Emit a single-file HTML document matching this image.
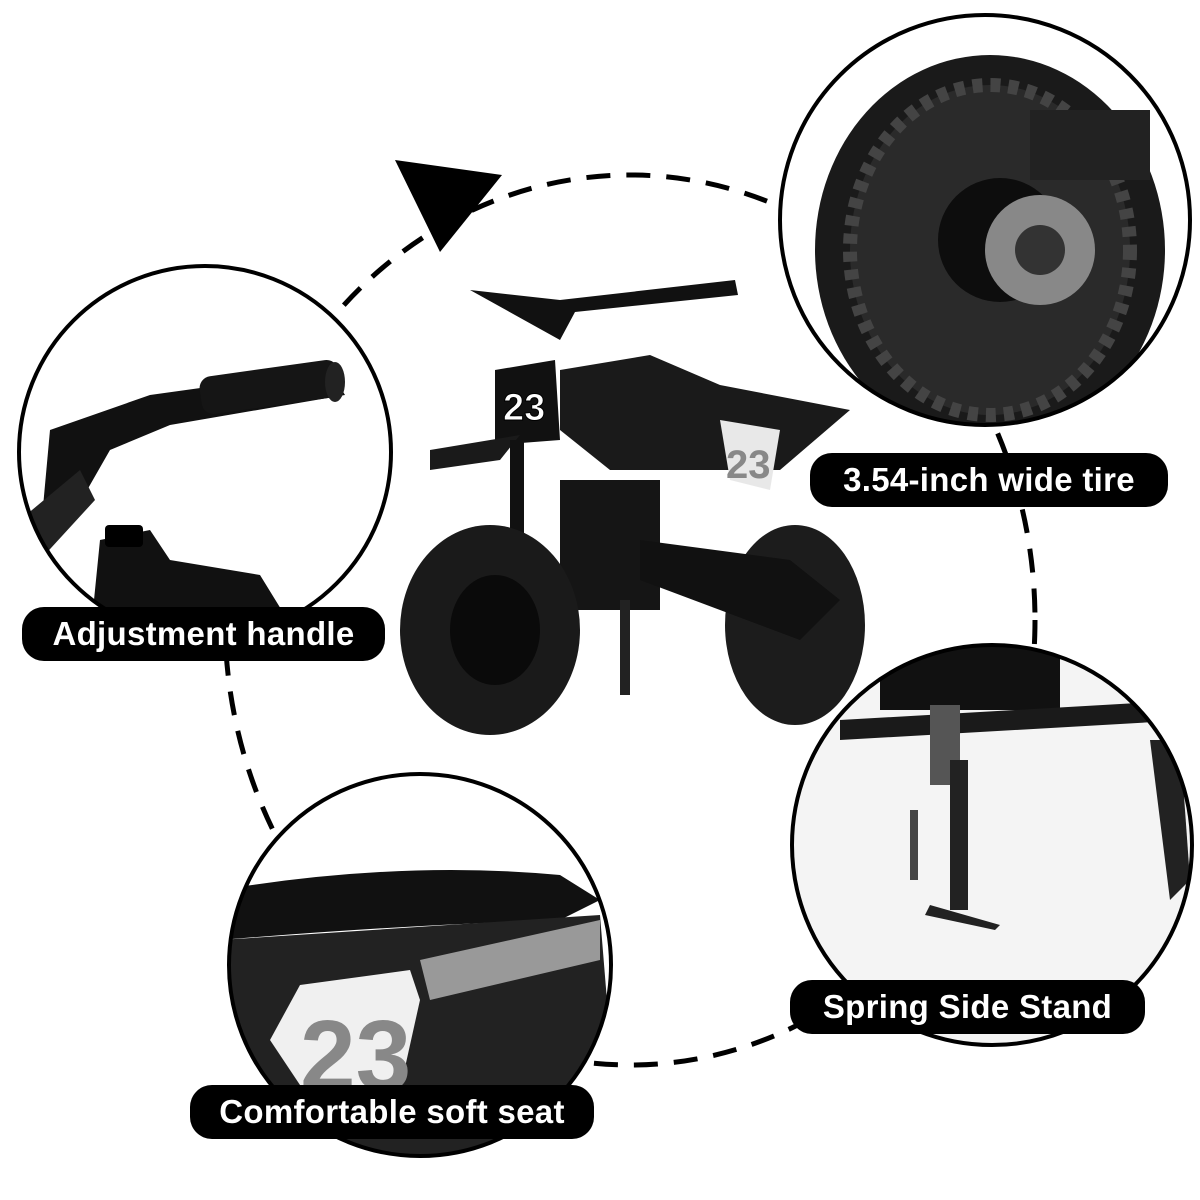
<!DOCTYPE html>
<html><head><meta charset="utf-8"><style>
html,body{margin:0;padding:0;background:#fff;width:1200px;height:1200px;overflow:hidden}
.lbl{position:absolute;background:#000;color:#fff;border-radius:22px;font-family:"Liberation Sans",sans-serif;font-weight:bold;font-size:33px;display:flex;align-items:center;justify-content:center;letter-spacing:0.3px}
</style></head><body>
<svg width="1200" height="1200" style="position:absolute;left:0;top:0">
<ellipse cx="630" cy="620" rx="405" ry="445" fill="none" stroke="#000" stroke-width="5" stroke-dasharray="24 16"/>
<polygon points="395,160 502,175 440,252" fill="#000"/>
<!-- handle circle -->
<clipPath id="c1"><circle cx="205" cy="452" r="186"/></clipPath>
<g clip-path="url(#c1)">
<rect x="0" y="260" width="400" height="400" fill="#fff"/>
<path d="M50 430 L150 395 L330 370 L345 395 L170 425 L110 450 L70 520 L40 540 Z" fill="#111"/>
<rect x="200" y="368" width="140" height="38" rx="12" fill="#151515" transform="rotate(-8 270 387)"/>
<ellipse cx="335" cy="382" rx="10" ry="20" fill="#222"/>
<path d="M20 520 L80 470 L95 500 L40 560 Z" fill="#222"/>
<path d="M100 540 L150 530 L170 560 L260 575 L300 640 L90 640 Z" fill="#111"/>
<rect x="105" y="525" width="38" height="22" rx="4" fill="#000"/>
</g>
<circle cx="205" cy="452" r="186" fill="none" stroke="#000" stroke-width="4"/>
<!-- tire circle -->
<clipPath id="c2"><circle cx="985" cy="220" r="205"/></clipPath>
<g clip-path="url(#c2)">
<rect x="780" y="10" width="420" height="420" fill="#fff"/>
<ellipse cx="990" cy="250" rx="175" ry="195" fill="#1a1a1a"/>
<ellipse cx="990" cy="250" rx="140" ry="165" fill="#2a2a2a" stroke="#444" stroke-width="14" stroke-dasharray="10 8"/>
<circle cx="1000" cy="240" r="62" fill="#0d0d0d"/>
<circle cx="1040" cy="250" r="55" fill="#888"/>
<circle cx="1040" cy="250" r="25" fill="#333"/>
<rect x="1030" y="110" width="120" height="70" fill="#222"/>
</g>
<circle cx="985" cy="220" r="205" fill="none" stroke="#000" stroke-width="4"/>
<!-- stand circle -->
<clipPath id="c3"><circle cx="992" cy="845" r="200"/></clipPath>
<g clip-path="url(#c3)">
<rect x="790" y="640" width="410" height="410" fill="#f4f4f4"/>
<rect x="880" y="640" width="180" height="70" fill="#111"/>
<path d="M840 720 L1190 700 L1190 720 L840 740 Z" fill="#1a1a1a"/>
<path d="M1150 740 L1180 740 L1190 880 L1170 900 Z" fill="#222"/>
<rect x="930" y="705" width="30" height="80" fill="#555"/>
<rect x="950" y="760" width="18" height="150" fill="#222"/>
<path d="M930 905 L1000 925 L995 930 L925 915 Z" fill="#222"/>
<rect x="910" y="810" width="8" height="70" fill="#444"/>
</g>
<circle cx="992" cy="845" r="200" fill="none" stroke="#000" stroke-width="4"/>
<!-- seat circle -->
<clipPath id="c4"><circle cx="420" cy="965" r="191"/></clipPath>
<g clip-path="url(#c4)">
<rect x="225" y="770" width="400" height="400" fill="#fff"/>
<path d="M220 890 Q400 860 560 875 L600 900 L560 920 Q400 925 220 940 Z" fill="#111"/>
<path d="M220 940 L600 915 L620 1160 L220 1160 Z" fill="#222"/>
<path d="M300 985 L410 970 L420 1000 L400 1090 L310 1100 L270 1040 Z" fill="#f0f0f0"/>
<text x="300" y="1090" font-family="Liberation Sans,sans-serif" font-weight="bold" font-size="100" fill="#888">23</text>
<path d="M420 960 L600 920 L600 960 L430 1000 Z" fill="#999"/>
</g>
<circle cx="420" cy="965" r="191" fill="none" stroke="#000" stroke-width="4"/>
<!-- bike -->
<g>
<path d="M470 290 L560 300 L735 280 L738 295 L575 312 L560 340 Z" fill="#111"/>
<path d="M495 370 L555 360 L560 440 L495 445 Z" fill="#111"/>
<text x="503" y="420" font-family="Liberation Sans,sans-serif" font-weight="bold" font-size="38" fill="#fff" stroke="#000" stroke-width="1">23</text>
<path d="M560 370 L650 355 L720 385 L850 410 L780 470 L610 470 L560 430 Z" fill="#1a1a1a"/>
<path d="M720 420 L780 430 L770 490 L730 480 Z" fill="#e8e8e8"/>
<text x="726" y="478" font-family="Liberation Sans,sans-serif" font-weight="bold" font-size="40" fill="#888">23</text>
<path d="M430 450 L520 435 L500 460 L430 470 Z" fill="#1a1a1a"/>
<rect x="510" y="440" width="14" height="190" fill="#111"/>
<rect x="560" y="480" width="100" height="130" fill="#151515"/>
<ellipse cx="490" cy="630" rx="90" ry="105" fill="#1a1a1a"/>
<ellipse cx="495" cy="630" rx="45" ry="55" fill="#0a0a0a"/>
<ellipse cx="795" cy="625" rx="70" ry="100" fill="#1c1c1c"/>
<path d="M640 540 L790 560 L840 600 L800 640 L640 580 Z" fill="#111"/>
<rect x="620" y="600" width="10" height="95" fill="#222"/>
</g>
</svg>
<div class="lbl" style="left:22px;top:607px;width:363px;height:54px">Adjustment handle</div>
<div class="lbl" style="left:810px;top:453px;width:358px;height:54px">3.54-inch wide tire</div>
<div class="lbl" style="left:790px;top:980px;width:355px;height:54px">Spring Side Stand</div>
<div class="lbl" style="left:190px;top:1085px;width:404px;height:54px">Comfortable soft seat</div>
</body></html>
